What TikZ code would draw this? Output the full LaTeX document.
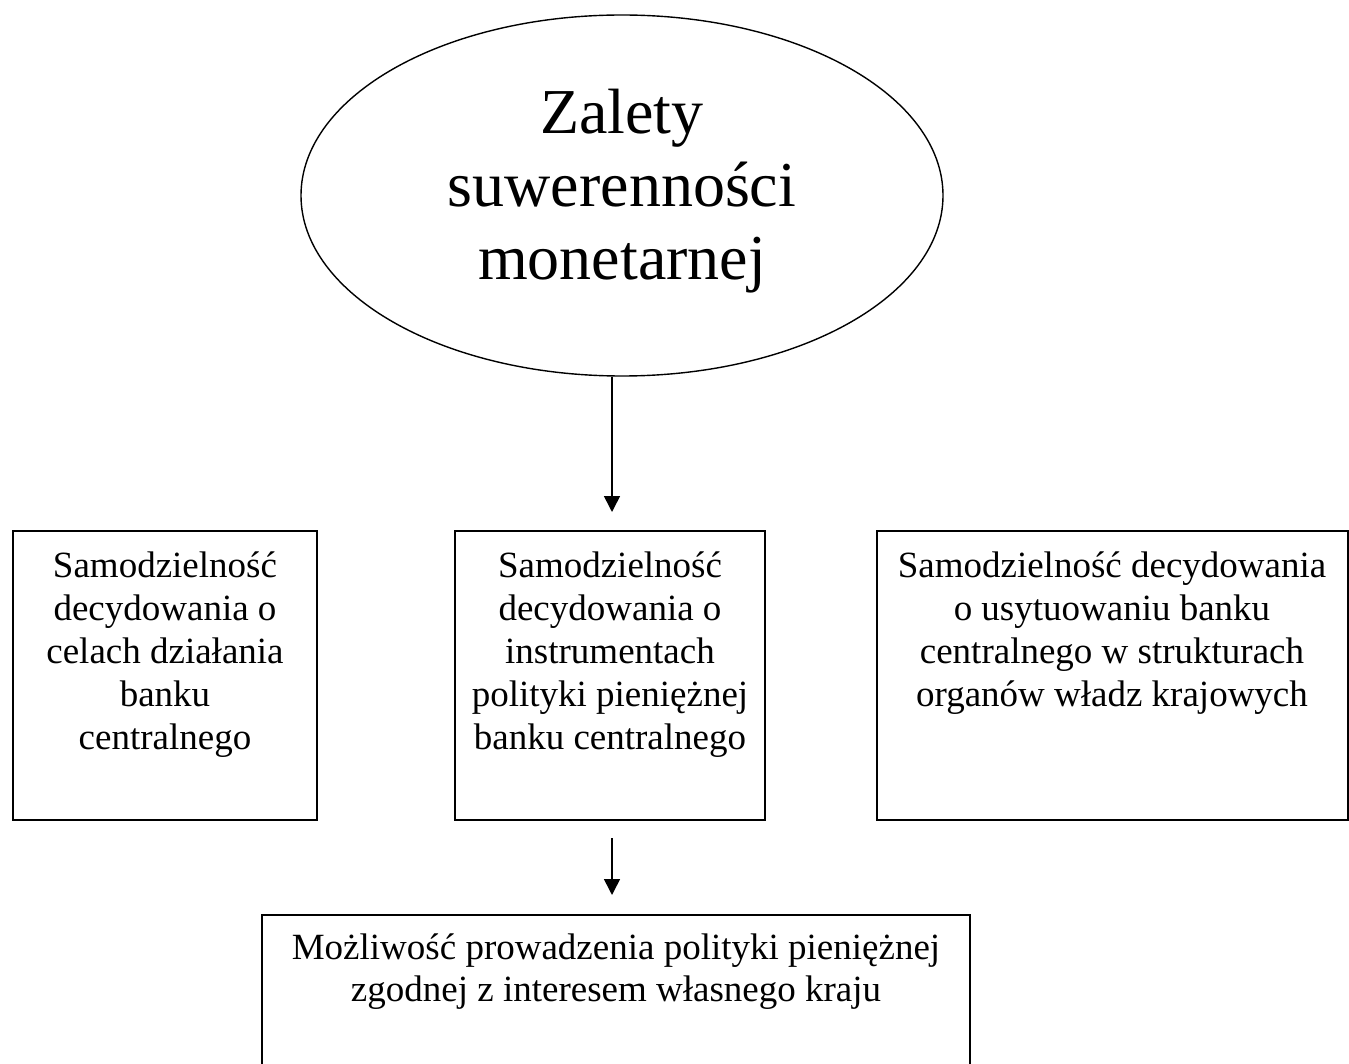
\documentclass[tikz,border=0pt]{standalone}
\usepackage{fontspec}
\setmainfont{Liberation Serif}
\usetikzlibrary{shapes.geometric,arrows.meta}
\begin{document}
\begin{tikzpicture}[x=1pt,y=-1pt,
  boxline/.style={draw=black,line width=1.6pt},
  boxtext/.style={anchor=base,align=center,inner sep=0pt,font=\fontsize{37}{43}\selectfont},
  arr/.style={line width=1.6pt,-{Triangle[width=16pt,length=16pt]}}]
\useasboundingbox (0,0) rectangle (1349,1064);
\fill[white] (0,0) rectangle (1349,1064);
% ellipse
\node[draw=black,line width=1.4pt,ellipse,minimum width=642pt,minimum height=361pt,inner sep=0pt] (ell) at (622,195.5) {};
\node[anchor=base,align=center,inner sep=0pt,font=\fontsize{64}{73}\selectfont] (elltext) at (622,280) {Zalety\\suwerenności\\monetarnej};
% boxes
\draw[boxline] (13,531) rectangle (317,820) node[pos=0.5,inner sep=0pt] (b1) {};
\draw[boxline] (455,531) rectangle (765,820) node[pos=0.5,inner sep=0pt] (b2) {};
\draw[boxline] (877,531) rectangle (1348,820) node[pos=0.5,inner sep=0pt] (b3) {};
\draw[boxline] (262,915) rectangle (970,1090) node[pos=0.5,inner sep=0pt] (b4) {};
% texts
\node[boxtext] (t1) at (165,749) {Samodzielność\\decydowania o\\celach działania\\banku\\centralnego};
\node[boxtext] (t2) at (610,749) {Samodzielność\\decydowania o\\instrumentach\\polityki pieniężnej\\banku centralnego};
\node[boxtext] (t3) at (1112,706) {Samodzielność decydowania\\o usytuowaniu banku\\centralnego w strukturach\\organów władz krajowych};
\node[boxtext,font=\fontsize{37}{42}\selectfont] (t4) at (616,1001) {Możliwość prowadzenia polityki pieniężnej\\zgodnej z interesem własnego kraju};
% arrows
\coordinate (a1s) at (612,377);
\coordinate (a1e) at (612,512);
\coordinate (a2s) at (612,838);
\coordinate (a2e) at (612,895);
\draw[arr] (a1s) -- (a1e);
\draw[arr] (a2s) -- (a2e);
\end{tikzpicture}
\end{document}
